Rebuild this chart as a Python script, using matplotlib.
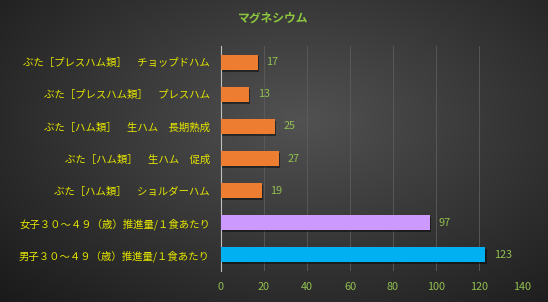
import numpy as np
import matplotlib
matplotlib.use("Agg")
import matplotlib.pyplot as plt

plt.rcParams['font.family'] = ['Noto Sans CJK JP', 'DejaVu Sans']

# data, bottom to top
labels = [
    "男子３０～４９（歳）推進量/１食あたり",
    "女子３０～４９（歳）推進量/１食あたり",
    "ぶた［ハム類］　ショルダーハム",
    "ぶた［ハム類］　生ハム　促成",
    "ぶた［ハム類］　生ハム　長期熟成",
    "ぶた［プレスハム類］　プレスハム",
    "ぶた［プレスハム類］　チョップドハム",
]
values = [123, 97, 19, 27, 25, 13, 17]
colors = ["#00B0F0", "#CC99FF", "#ED7D31", "#ED7D31", "#ED7D31", "#ED7D31", "#ED7D31"]
title = "マグネシウム"
xticks = [0, 20, 40, 60, 80, 100, 120, 140]

fig = plt.figure(figsize=(5.48, 3.02), dpi=100)

# radial gradient background
bg = fig.add_axes([0, 0, 1, 1], zorder=-10)
yy, xx = np.mgrid[0:302, 0:548]
r = np.sqrt(((xx - 300) / 420.0) ** 2 + ((yy - 120) / 260.0) ** 2)
r = np.clip(r, 0, 1)
shade = 0.32 - 0.22 * r
bg.imshow(np.dstack([shade, shade, shade]), aspect='auto', extent=[0, 1, 0, 1])
bg.axis('off')

ax = fig.add_axes([221 / 548, 1 - 271 / 302, 301 / 548, 225 / 302])
ax.set_facecolor('none')
y = np.arange(len(values))

# drop shadow
ax.barh(y - 0.06, values, height=0.47, left=0.6, color='black', alpha=0.45, zorder=2)
ax.barh(y, values, height=0.47, color=colors, zorder=3)

for yi, v in zip(y, values):
    ax.text(v + 4, yi, str(v), va='center', ha='left', color='#92C050', fontsize=7.8)

ax.set_xlim(0, 140)
ax.set_ylim(-0.5, 6.5)
ax.set_xticks(xticks)
ax.set_xticklabels([str(t) for t in xticks])
ax.set_yticks(y)
ax.set_yticklabels(labels)
ax.tick_params(axis='x', colors='#92C050', labelsize=7.8, length=0, pad=8)
ax.tick_params(axis='y', colors='#E6E600', labelsize=7.5, length=0, pad=8)
ax.grid(axis='x', color='#5c5c5c', linewidth=0.6, zorder=0)
for s in ['top', 'right', 'bottom']:
    ax.spines[s].set_visible(False)
ax.spines['left'].set_color('#bfbfbf')
ax.spines['left'].set_linewidth(0.8)

fig.text(273 / 548, 1 - 18 / 302, title, ha='center', va='center',
         color='#8CC63F', fontsize=8.5, fontweight='bold')

fig.savefig('out.png', dpi=100)
